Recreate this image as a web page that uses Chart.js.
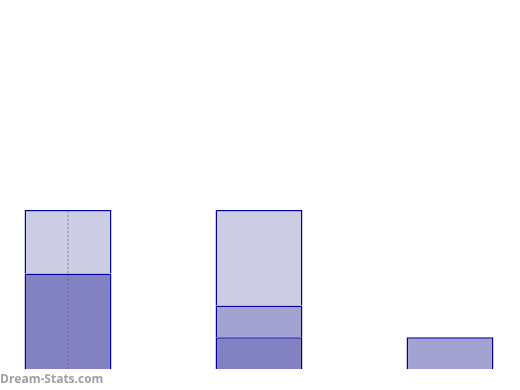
<!DOCTYPE html>
<html>
<head>
<meta charset="utf-8">
<script src="https://cdn.jsdelivr.net/npm/chart.js@4/dist/chart.umd.min.js"></script>
<style>
  html, body { margin: 0; padding: 0; background: #fff; }
  #wrap { position: relative; width: 520px; height: 390px; }
  #brand {
    position: absolute; left: 0; top: 370px;
    font: bold 12px "Open Sans", sans-serif; color: #a0a0a0;
  }
</style>
</head>
<body>
<div id="wrap">
  <canvas id="chart" width="520" height="390"></canvas>
  <div id="brand">Dream-Stats.com</div>
</div>
<script>
const categories = ["A", "B", "C"];
const darkValues = [3, 1, null];
const mediumValues = [null, 1, 1];
const lightValues = [2, 3, null];
const lineValues = [{ x: "A", y: 0 }, { x: "A", y: 4.95 }];
const yMax = 10;

const border = "#000099";

new Chart(document.getElementById("chart"), {
  type: "bar",
  data: {
    labels: categories,
    datasets: [
      { data: darkValues, backgroundColor: "#8282c2", borderColor: border, borderWidth: 1.5, clip: false },
      { data: mediumValues, backgroundColor: "#a3a3d1", borderColor: border, borderWidth: 1.5, clip: false },
      { data: lightValues, backgroundColor: "#cccce5", borderColor: border, borderWidth: 1.5, clip: false },
      {
        type: "line",
        order: -1,
        data: lineValues,
        yAxisID: "yLine",
        borderColor: "rgba(90,90,120,0.45)",
        borderWidth: 1.5,
        borderDash: [2, 2],
        pointRadius: 0,
        clip: false
      }
    ]
  },
  options: {
    responsive: false,
    animation: false,
    layout: { padding: { left: 68, right: 70, top: 51, bottom: 21 } },
    datasets: { bar: { barPercentage: 1, categoryPercentage: 0.455 } },
    plugins: { legend: { display: false }, tooltip: { enabled: false } },
    scales: {
      x: { display: false, stacked: true, offset: false },
      y: { display: false, stacked: true, min: 0, max: yMax },
      yLine: { display: false, min: 0, max: yMax }
    }
  }
});
</script>
</body>
</html>
